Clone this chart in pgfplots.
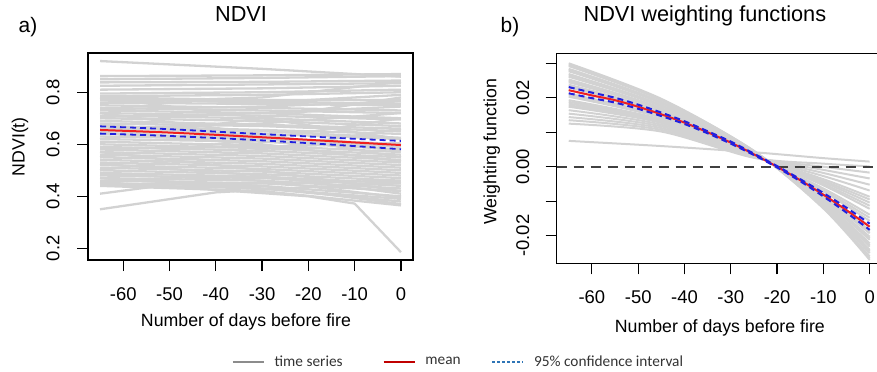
\documentclass[border=0pt]{standalone}
\usepackage{pgfplots}
\pgfplotsset{compat=1.18}
\usepackage{fontspec}
\setmainfont{Liberation Sans}
\newfontfamily\legfont{Carlito}
\definecolor{lgray}{HTML}{D2D2D2}
\definecolor{leggray}{HTML}{8C8C8C}
\definecolor{legred}{HTML}{C00000}
\definecolor{legblue}{HTML}{2E75B6}
\definecolor{cib}{HTML}{2020E0}
\definecolor{mred}{HTML}{F02020}
\begin{document}
\begin{tikzpicture}
\pgfplotsset{
  rstyle/.style={
    scale only axis, width=325bp,
    xmin=-67.6, xmax=2.6,
    axis line style={line width=1.2bp, black},
    tick align=outside, xtick pos=bottom, ytick pos=left,
    major tick length=11bp,
    every tick/.style={line width=1.2bp, black},
    xtick={-60,-50,-40,-30,-20,-10,0},
    xticklabels={-60,-50,-40,-30,-20,-10,0},
    ticklabel style={font=\fontsize{18.5}{19}\selectfont},
    yticklabel style={rotate=90, anchor=south},
    label style={font=\fontsize{17.8}{18}\selectfont},
    title style={font=\fontsize{21.8}{22}\selectfont, anchor=center},
    xlabel={Number of days before fire},
    scaled y ticks=false,
    clip=true,
  },
  gl/.style={forget plot, lgray, line width=2.3bp},
  gls/.style={forget plot, lgray, line width=2bp, smooth},
}
% ---------------- panel a ----------------
\begin{axis}[rstyle, at={(88bp,112bp)}, anchor=south west, height=207bp,
  ymin=0.155, ymax=0.951,
  ytick={0.2,0.4,0.6,0.8}, yticklabels={0.2,0.4,0.6,0.8},
  title={NDVI}, title style={at={(axis description cs:0.471,1.159)}},
  ylabel={NDVI(t)}, ylabel style={at={(axis description cs:-0.209,0.547)}, anchor=center},
  xlabel style={at={(axis description cs:0.486,-0.30)}, anchor=center},
  xticklabel shift=13bp, yticklabel shift=14bp,
  legend style={at={(axis description cs:0.4431,-0.4928)}, anchor=west, draw=none, fill=none,
    legend columns=3, inner sep=0pt, font=\legfont\fontsize{15.4}{15}\selectfont, text=black!80,
    /tikz/column 1/.style={column sep=8bp},
    /tikz/column 2/.style={column sep=38bp},
    /tikz/column 3/.style={column sep=8bp},
    /tikz/column 4/.style={column sep=29bp},
    /tikz/column 5/.style={column sep=8bp}},
  legend image code/.code={\draw[#1] (0bp,0bp) -- (31bp,0bp);},
]
\addlegendimage{leggray, line width=1.4bp}
\addlegendentry{time series}
\addlegendimage{legred, line width=1.8bp}
\addlegendentry{mean}
\addlegendimage{legblue, line width=1.4bp, dash pattern=on 3bp off 2bp}
\addlegendentry{95\% confidence interval}
\addplot[gl] coordinates {(-65,0.920) (-30,0.890) (0,0.860)};
\addplot[gl] coordinates {(-65,0.862) (-30,0.865) (0,0.870)};
\addplot[gl] coordinates {(-65,0.850) (-30,0.855) (0,0.862)};
\addplot[gl] coordinates {(-65,0.838) (-30,0.840) (0,0.845)};
\addplot[gl] coordinates {(-65,0.825) (-30,0.830) (0,0.835)};
\addplot[gl] coordinates {(-65,0.810) (-30,0.815) (0,0.825)};
\addplot[gl] coordinates {(-65,0.795) (-30,0.800) (0,0.810)};
\addplot[gl] coordinates {(-65,0.785) (-30,0.790) (0,0.800)};
\addplot[gl] coordinates {(-65,0.780) (-30,0.770) (0,0.770)};
\addplot[gl] coordinates {(-65,0.770) (-30,0.765) (0,0.755)};
\addplot[gl] coordinates {(-65,0.760) (-30,0.755) (0,0.750)};
\addplot[gl] coordinates {(-65,0.750) (-30,0.740) (0,0.730)};
\addplot[gl] coordinates {(-65,0.740) (-30,0.730) (0,0.720)};
\addplot[gl] coordinates {(-65,0.730) (-30,0.720) (0,0.700)};
\addplot[gl] coordinates {(-65,0.720) (-30,0.710) (0,0.695)};
\addplot[gl] coordinates {(-65,0.710) (-30,0.700) (0,0.680)};
\addplot[gl] coordinates {(-65,0.700) (-30,0.690) (0,0.670)};
\addplot[gl] coordinates {(-65,0.690) (-30,0.675) (0,0.660)};
\addplot[gl] coordinates {(-65,0.680) (-30,0.670) (0,0.650)};
\addplot[gl] coordinates {(-65,0.670) (-30,0.655) (0,0.640)};
\addplot[gl] coordinates {(-65,0.660) (-30,0.650) (0,0.625)};
\addplot[gl] coordinates {(-65,0.650) (-30,0.640) (0,0.620)};
\addplot[gl] coordinates {(-65,0.640) (-30,0.625) (0,0.600)};
\addplot[gl] coordinates {(-65,0.630) (-30,0.620) (0,0.590)};
\addplot[gl] coordinates {(-65,0.620) (-30,0.610) (0,0.580)};
\addplot[gl] coordinates {(-65,0.610) (-30,0.595) (0,0.570)};
\addplot[gl] coordinates {(-65,0.600) (-30,0.585) (0,0.560)};
\addplot[gl] coordinates {(-65,0.590) (-30,0.575) (0,0.550)};
\addplot[gl] coordinates {(-65,0.580) (-30,0.565) (0,0.540)};
\addplot[gl] coordinates {(-65,0.570) (-30,0.555) (0,0.530)};
\addplot[gl] coordinates {(-65,0.560) (-30,0.545) (0,0.520)};
\addplot[gl] coordinates {(-65,0.550) (-30,0.535) (0,0.510)};
\addplot[gl] coordinates {(-65,0.540) (-30,0.525) (0,0.500)};
\addplot[gl] coordinates {(-65,0.530) (-30,0.515) (0,0.490)};
\addplot[gl] coordinates {(-65,0.520) (-30,0.505) (0,0.480)};
\addplot[gl] coordinates {(-65,0.510) (-30,0.495) (0,0.470)};
\addplot[gl] coordinates {(-65,0.500) (-30,0.485) (0,0.460)};
\addplot[gl] coordinates {(-65,0.490) (-30,0.475) (0,0.450)};
\addplot[gl] coordinates {(-65,0.480) (-30,0.470) (0,0.440)};
\addplot[gl] coordinates {(-65,0.470) (-30,0.460) (0,0.430)};
\addplot[gl] coordinates {(-65,0.460) (-30,0.450) (0,0.420)};
\addplot[gl] coordinates {(-65,0.450) (-30,0.440) (0,0.400)};
\addplot[gl] coordinates {(-65,0.445) (-30,0.430) (0,0.380)};
\addplot[gl] coordinates {(-65,0.440) (-30,0.420) (0,0.365)};
\addplot[gl] coordinates {(-65,0.410) (-50,0.445) (-30,0.450) (0,0.460)};
\addplot[gl] coordinates {(-65,0.350) (-40,0.415) (-20,0.435) (0,0.450)};
\addplot[gl] coordinates {(-65,0.455) (-20,0.400) (-10,0.372) (0,0.185)};
\addplot[gl] coordinates {(-65,0.780) (-30,0.700) (0,0.620)};
\addplot[gl] coordinates {(-65,0.500) (-30,0.580) (0,0.660)};
\addplot[gl] coordinates {(-65,0.620) (-30,0.700) (0,0.780)};
\addplot[gl] coordinates {(-65,0.550) (-30,0.620) (0,0.700)};
\addplot[gl] coordinates {(-65,0.720) (-30,0.640) (0,0.550)};
\addplot[gl] coordinates {(-65,0.470) (-30,0.440) (0,0.370)};
\addplot[gl] coordinates {(-65,0.660) (-30,0.680) (0,0.720)};
\addplot[gl] coordinates {(-65,0.570) (-30,0.500) (0,0.420)};
\addplot[gl] coordinates {(-65,0.760) (-30,0.780) (0,0.840)};
\addplot[gl] coordinates {(-65,0.470) (-30,0.430) (0,0.390)};
\addplot[gl] coordinates {(-65,0.775) (-30,0.760) (0,0.790)};
\addplot[gl] coordinates {(-65,0.705) (-30,0.720) (0,0.745)};
\addplot[gl] coordinates {(-65,0.645) (-30,0.600) (0,0.535)};
\addplot[gl] coordinates {(-65,0.585) (-30,0.590) (0,0.605)};
\addplot[gl] coordinates {(-65,0.525) (-30,0.480) (0,0.410)};
\addplot[gl] coordinates {(-65,0.485) (-30,0.460) (0,0.395)};
\addplot[gl] coordinates {(-65,0.675) (-30,0.630) (0,0.575)};
\addplot[gl] coordinates {(-65,0.735) (-30,0.745) (0,0.765)};
% mean and CI
\addplot[forget plot, mred, line width=2bp, smooth] coordinates {(-65,0.655) (-50,0.645) (-30,0.627) (-10,0.607) (0,0.597)};
\addplot[forget plot, cib, line width=1.8bp, dash pattern=on 6bp off 4bp, smooth] coordinates {(-65,0.669) (-50,0.658) (-30,0.639) (-10,0.621) (0,0.613)};
\addplot[forget plot, cib, line width=1.8bp, dash pattern=on 6bp off 4bp, smooth] coordinates {(-65,0.641) (-50,0.632) (-30,0.615) (-10,0.593) (0,0.581)};
\end{axis}
\node[font=\fontsize{21}{21}\selectfont] at (28bp,345bp) {a)};
% ---------------- panel b ----------------
\begin{axis}[rstyle, at={(556.7bp,108.7bp)}, anchor=south west, height=210bp,
  ymin=-0.028, ymax=0.0329,
  ytick={-0.02,-0.01,0,0.01,0.02,0.03}, yticklabels={-0.02,,0.00,,0.02,},
  title={NDVI weighting functions}, title style={at={(axis description cs:0.456,1.15)}},
  ylabel={Weighting function}, ylabel style={at={(axis description cs:-0.2,0.531)}, anchor=center},
  xlabel style={at={(axis description cs:0.502,-0.308)}, anchor=center},
  xticklabel shift=13bp, yticklabel shift=13bp,
]
\addplot[gls] coordinates {(-65,0.0125) (-45,0.0102) (-25,0.0026) (-10,0.0009) (0,0.0001)};
\addplot[gls] coordinates {(-65,0.0135) (-45,0.0107) (-25,0.0027) (-10,0.0000) (0,-0.0017)};
\addplot[gls] coordinates {(-65,0.0144) (-45,0.0112) (-25,0.0028) (-10,-0.0009) (0,-0.0034)};
\addplot[gls] coordinates {(-65,0.0154) (-45,0.0117) (-25,0.0029) (-10,-0.0018) (0,-0.0052)};
\addplot[gls] coordinates {(-65,0.0164) (-45,0.0122) (-25,0.0030) (-10,-0.0027) (0,-0.0069)};
\addplot[gls] coordinates {(-65,0.0174) (-45,0.0127) (-25,0.0031) (-10,-0.0036) (0,-0.0087)};
\addplot[gls] coordinates {(-65,0.0178) (-45,0.0130) (-25,0.0032) (-10,-0.0041) (0,-0.0095)};
\addplot[gls] coordinates {(-65,0.0183) (-45,0.0132) (-25,0.0032) (-10,-0.0045) (0,-0.0104)};
\addplot[gls] coordinates {(-65,0.0188) (-45,0.0135) (-25,0.0033) (-10,-0.0050) (0,-0.0113)};
\addplot[gls] coordinates {(-65,0.0193) (-45,0.0137) (-25,0.0033) (-10,-0.0054) (0,-0.0122)};
\addplot[gls] coordinates {(-65,0.0203) (-45,0.0142) (-25,0.0034) (-10,-0.0063) (0,-0.0139)};
\addplot[gls] coordinates {(-65,0.0207) (-45,0.0145) (-25,0.0035) (-10,-0.0068) (0,-0.0148)};
\addplot[gls] coordinates {(-65,0.0212) (-45,0.0147) (-25,0.0035) (-10,-0.0072) (0,-0.0157)};
\addplot[gls] coordinates {(-65,0.0222) (-45,0.0152) (-25,0.0036) (-10,-0.0081) (0,-0.0174)};
\addplot[gls] coordinates {(-65,0.0230) (-45,0.0157) (-25,0.0037) (-10,-0.0085) (0,-0.0184)};
\addplot[gls] coordinates {(-65,0.0234) (-45,0.0159) (-25,0.0038) (-10,-0.0087) (0,-0.0188)};
\addplot[gls] coordinates {(-65,0.0238) (-45,0.0161) (-25,0.0038) (-10,-0.0089) (0,-0.0193)};
\addplot[gls] coordinates {(-65,0.0245) (-45,0.0166) (-25,0.0039) (-10,-0.0093) (0,-0.0203)};
\addplot[gls] coordinates {(-65,0.0249) (-45,0.0168) (-25,0.0040) (-10,-0.0095) (0,-0.0208)};
\addplot[gls] coordinates {(-65,0.0253) (-45,0.0170) (-25,0.0040) (-10,-0.0097) (0,-0.0212)};
\addplot[gls] coordinates {(-65,0.0261) (-45,0.0175) (-25,0.0041) (-10,-0.0101) (0,-0.0222)};
\addplot[gls] coordinates {(-65,0.0265) (-45,0.0177) (-25,0.0042) (-10,-0.0103) (0,-0.0227)};
\addplot[gls] coordinates {(-65,0.0269) (-45,0.0179) (-25,0.0042) (-10,-0.0105) (0,-0.0232)};
\addplot[gls] coordinates {(-65,0.0277) (-45,0.0184) (-25,0.0043) (-10,-0.0109) (0,-0.0241)};
\addplot[gls] coordinates {(-65,0.0280) (-45,0.0186) (-25,0.0044) (-10,-0.0111) (0,-0.0246)};
\addplot[gls] coordinates {(-65,0.0284) (-45,0.0188) (-25,0.0044) (-10,-0.0113) (0,-0.0251)};
\addplot[gls] coordinates {(-65,0.0292) (-45,0.0193) (-25,0.0045) (-10,-0.0117) (0,-0.0260)};
\addplot[gls] coordinates {(-65,0.0296) (-45,0.0195) (-25,0.0046) (-10,-0.0119) (0,-0.0265)};
\addplot[gls] coordinates {(-65,0.0300) (-45,0.0197) (-25,0.0046) (-10,-0.0121) (0,-0.0270)};
\addplot[gls] coordinates {(-65,0.0075) (-45,0.0060) (-25,0.0042) (-10,0.0025) (0,0.0015)};
% zero line
\addplot[forget plot, black!75, line width=1.8bp, dash pattern=on 10bp off 7bp] coordinates {(-67.6,0) (2.6,0)};
% mean and CI
\addplot[forget plot, mred, line width=2bp, smooth] coordinates {(-65,0.0222) (-60,0.0207) (-55,0.0193) (-50,0.0174) (-45,0.0152) (-40,0.0128) (-35,0.0100) (-30,0.0070) (-25,0.0036) (-20,0.0000) (-15,-0.0039) (-10,-0.0081) (-5,-0.0126) (0,-0.0174)};
\addplot[forget plot, cib, line width=2bp, dash pattern=on 6bp off 4bp, smooth] coordinates {(-65,0.0231) (-60,0.0215) (-55,0.0200) (-50,0.0180) (-45,0.0157) (-40,0.0132) (-35,0.0103) (-30,0.0073) (-25,0.0038) (-20,0.0002) (-15,-0.0036) (-10,-0.0076) (-5,-0.0119) (0,-0.0165)};
\addplot[forget plot, cib, line width=2bp, dash pattern=on 6bp off 4bp, smooth] coordinates {(-65,0.0213) (-60,0.0199) (-55,0.0186) (-50,0.0168) (-45,0.0147) (-40,0.0124) (-35,0.0097) (-30,0.0067) (-25,0.0034) (-20,-0.0002) (-15,-0.0042) (-10,-0.0086) (-5,-0.0133) (0,-0.0183)};
\end{axis}
\node[font=\fontsize{21}{21}\selectfont] at (510bp,345bp) {b)};
\pgfresetboundingbox
\useasboundingbox (0bp,0bp) rectangle (877bp,372bp);
\end{tikzpicture}
\end{document}
